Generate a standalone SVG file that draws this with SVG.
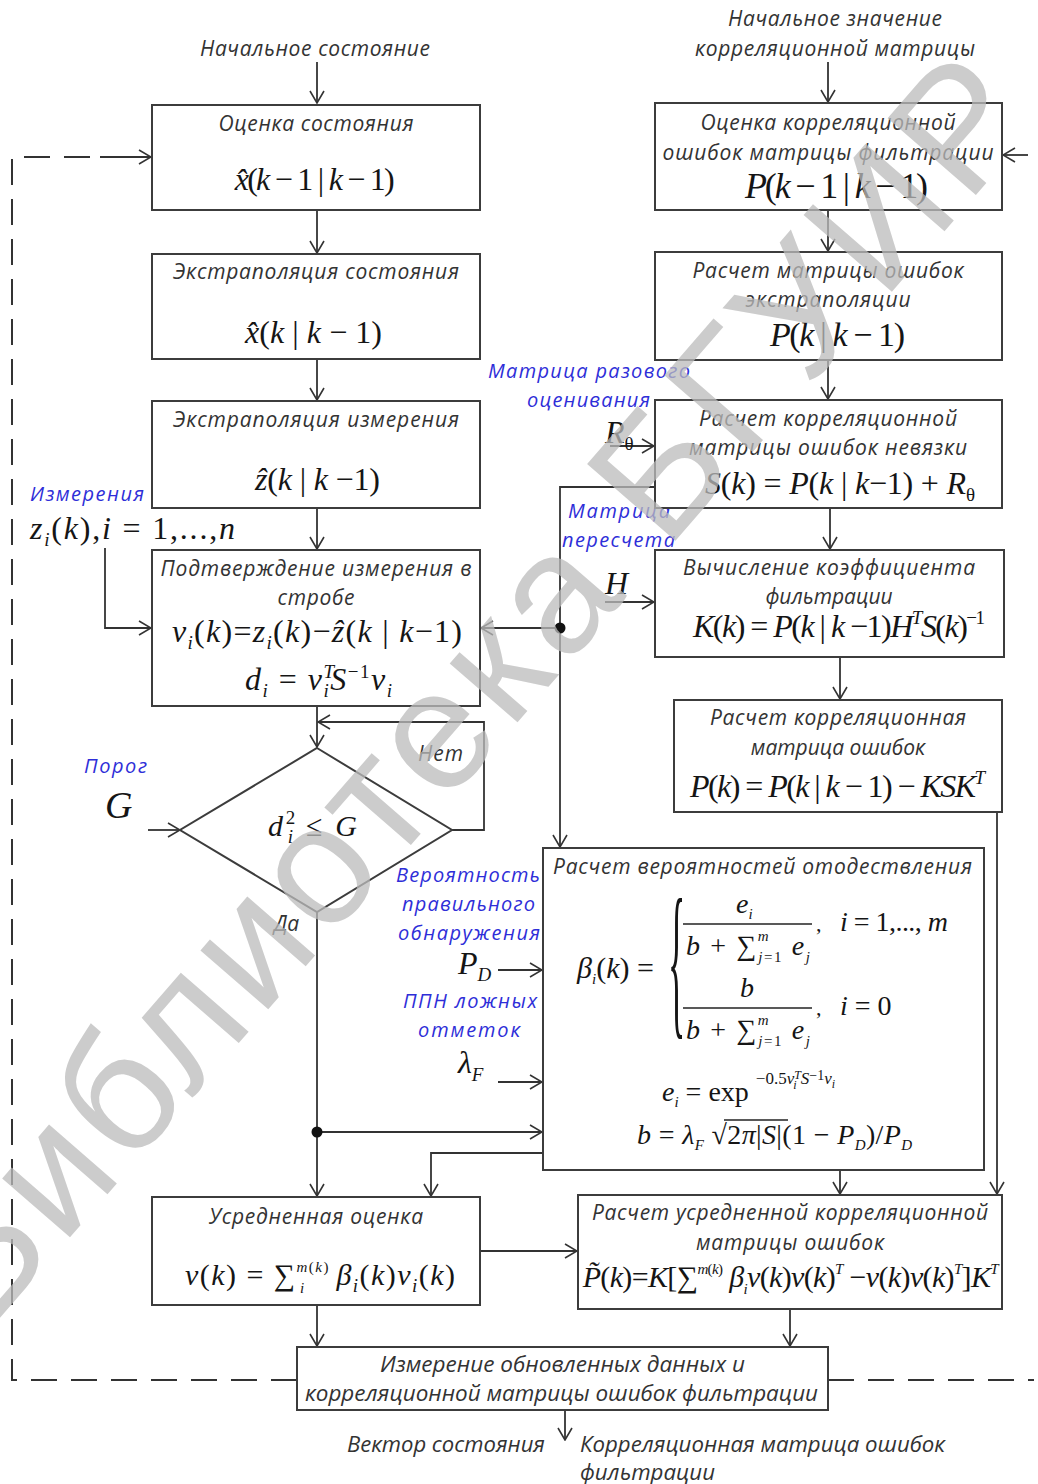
<svg xmlns="http://www.w3.org/2000/svg" width="1038" height="1484" viewBox="0 0 1038 1484">
<style>
.box{fill:#fff;stroke:#3c3c3c;stroke-width:2}
.t{font-family:"Open Sans","Noto Sans",sans-serif;font-style:italic;font-size:21px;fill:#333;text-anchor:middle}
.n{font-family:"Open Sans","Noto Sans",sans-serif;font-style:italic;font-size:21px;fill:#333}
.b{font-family:"Open Sans","Noto Sans",sans-serif;font-style:italic;font-size:20px;fill:#2e2ed8}
.m{font-family:"Liberation Serif","DejaVu Serif",serif;font-size:32px;fill:#151515}
.i{font-style:italic}
.s{font-size:19px}
.ss{font-size:15px}
.c path,.c line{stroke:#333;stroke-width:1.8;fill:none}
.c .d{stroke-dasharray:26,14;stroke-width:2}
.wm{font-family:"Liberation Sans",Arial,sans-serif;font-size:170px;fill:#bcbcbc;opacity:0.75}
</style>
<defs>
<marker id="a" viewBox="0 0 14 16" refX="13" refY="8" markerWidth="14" markerHeight="16" markerUnits="userSpaceOnUse" orient="auto">
<path d="M1,1 L13,8 L1,15" fill="none" stroke="#333" stroke-width="1.6"/>
</marker>
</defs>

<!-- connectors -->
<g id="connectors" class="c">
<line x1="317" y1="62" x2="317" y2="103" marker-end="url(#a)"/>
<line x1="828" y1="62" x2="828" y2="102" marker-end="url(#a)"/>
<line x1="317" y1="210" x2="317" y2="253" marker-end="url(#a)"/>
<line x1="317" y1="359" x2="317" y2="400" marker-end="url(#a)"/>
<line x1="317" y1="508" x2="317" y2="549" marker-end="url(#a)"/>
<line x1="317" y1="706" x2="317" y2="747" marker-end="url(#a)"/>
<path d="M452,830 H484 V722 H318" marker-end="url(#a)"/>
<line x1="148" y1="830" x2="180" y2="830" marker-end="url(#a)"/>
<line x1="317" y1="912" x2="317" y2="1196" marker-end="url(#a)"/>
<path d="M317,1132 H542" marker-end="url(#a)"/>
<path d="M105,548 V628 H151" marker-end="url(#a)"/>
<path class="d" d="M297,1380 H12 V157 H100"/>
<line x1="100" y1="157" x2="151" y2="157" marker-end="url(#a)"/>
<path class="d" d="M828,1380 H1034"/>
<line x1="1028" y1="155" x2="1003" y2="155" marker-end="url(#a)"/>
<line x1="828" y1="210" x2="828" y2="251" marker-end="url(#a)"/>
<line x1="828" y1="360" x2="828" y2="399" marker-end="url(#a)"/>
<line x1="830" y1="508" x2="830" y2="549" marker-end="url(#a)"/>
<line x1="840" y1="657" x2="840" y2="699" marker-end="url(#a)"/>
<line x1="610" y1="446" x2="654" y2="446" marker-end="url(#a)"/>
<line x1="605" y1="602" x2="654" y2="602" marker-end="url(#a)"/>
<path d="M655,487 H560 V847" marker-end="url(#a)"/>
<path d="M560,628 H481" marker-end="url(#a)"/>
<line x1="997" y1="812" x2="997" y2="1194" marker-end="url(#a)"/>
<line x1="840" y1="1170" x2="840" y2="1194" marker-end="url(#a)"/>
<path d="M543,1153 H431 V1196" marker-end="url(#a)"/>
<line x1="480" y1="1251" x2="577" y2="1251" marker-end="url(#a)"/>
<line x1="317" y1="1305" x2="317" y2="1346" marker-end="url(#a)"/>
<line x1="790" y1="1309" x2="790" y2="1346" marker-end="url(#a)"/>
<line x1="565" y1="1410" x2="565" y2="1440" marker-end="url(#a)"/>
<line x1="498" y1="970" x2="542" y2="970" marker-end="url(#a)"/>
<line x1="498" y1="1082" x2="542" y2="1082" marker-end="url(#a)"/>
<circle cx="317" cy="1132" r="5.5" fill="#111"/>
<circle cx="560" cy="628" r="5.5" fill="#111"/>
</g>

<!-- free labels -->
<g id="labels">
<text class="t" x="315" y="56" textLength="230">Начальное состояние</text>
<text class="t" x="835" y="26" textLength="214">Начальное значение</text>
<text class="t" x="835" y="56" textLength="280">корреляционной матрицы</text>
<text class="b" x="30" y="501" textLength="114">Измерения</text>
<text class="m" x="30" y="539" style="font-size:32px" textLength="205"><tspan class="i">z</tspan><tspan class="i s" dy="7">i</tspan><tspan dy="-7">(</tspan><tspan class="i">k</tspan>),<tspan class="i">i</tspan> = 1,...,<tspan class="i">n</tspan></text>
<text class="b" x="84" y="773" textLength="63">Порог</text>
<text class="m i" x="105" y="818" style="font-size:38px">G</text>
<text class="n" x="418" y="761" textLength="45">Нет</text>
<text class="n" x="274" y="931">Да</text>
<text class="b" x="488" y="378" textLength="202">Матрица разового</text>
<text class="b" x="527" y="407" textLength="123">оценивания</text>
<text class="m" x="605" y="443"><tspan class="i">R</tspan><tspan class="s" dy="7">θ</tspan></text>
<text class="b" x="568" y="518" textLength="102">Матрица</text>
<text class="b" x="562" y="547" textLength="113">пересчета</text>
<text class="m i" x="605" y="594">H</text>
<text class="b" x="396" y="882" textLength="144">Вероятность</text>
<text class="b" x="402" y="911" textLength="133">правильного</text>
<text class="b" x="398" y="940" textLength="142">обнаружения</text>
<text class="m" x="458" y="974"><tspan class="i">P</tspan><tspan class="i s" dy="7">D</tspan></text>
<text class="b" x="403" y="1008" textLength="134">ППН ложных</text>
<text class="b" x="418" y="1037" textLength="102">отметок</text>
<text class="m" x="458" y="1073"><tspan class="i">λ</tspan><tspan class="i s" dy="8">F</tspan></text>
<text class="n" x="347" y="1452" textLength="198" lengthAdjust="spacingAndGlyphs">Вектор состояния</text>
<text class="n" x="580" y="1452" textLength="365" lengthAdjust="spacingAndGlyphs">Корреляционная матрица ошибок</text>
<text class="n" x="580" y="1480" textLength="135" lengthAdjust="spacingAndGlyphs">фильтрации</text>
</g>

<!-- left column -->
<g id="n1">
<rect class="box" x="152" y="105" width="328" height="105"/>
<text class="t" x="316" y="131" textLength="195">Оценка состояния</text>
<text class="m" x="233" y="190" textLength="160"><tspan class="i">x̂</tspan>(<tspan class="i">k</tspan> − 1 | <tspan class="i">k</tspan> − 1)</text>
</g>
<g id="n2">
<rect class="box" x="152" y="254" width="328" height="105"/>
<text class="t" x="316" y="279" textLength="286">Экстраполяция состояния</text>
<text class="m" x="245" y="343" textLength="137"><tspan class="i">x̂</tspan>(<tspan class="i">k</tspan> | <tspan class="i">k</tspan> − 1)</text>
</g>
<g id="n3">
<rect class="box" x="152" y="401" width="328" height="107"/>
<text class="t" x="316" y="427" textLength="286">Экстраполяция измерения</text>
<text class="m" x="255" y="490" textLength="125"><tspan class="i">ẑ</tspan>(<tspan class="i">k</tspan> | <tspan class="i">k</tspan> −1)</text>
</g>
<g id="n4">
<rect class="box" x="152" y="550" width="328" height="156"/>
<text class="t" x="316" y="576" textLength="311">Подтверждение измерения в</text>
<text class="t" x="316" y="605" textLength="77">стробе</text>
<text class="m" x="172" y="642" textLength="290"><tspan class="i">ν</tspan><tspan class="i s" dy="7">i</tspan><tspan dy="-7">(</tspan><tspan class="i">k</tspan>)=<tspan class="i">z</tspan><tspan class="i s" dy="7">i</tspan><tspan dy="-7">(</tspan><tspan class="i">k</tspan>)−<tspan class="i">ẑ</tspan>(<tspan class="i">k</tspan> | <tspan class="i">k</tspan>−1)</text>
<text class="m" x="245" y="690" textLength="147"><tspan class="i">d</tspan><tspan class="i s" dy="7">i</tspan><tspan dy="-7"> = </tspan><tspan class="i">ν</tspan><tspan class="i s" dy="-12">T</tspan><tspan class="i s" dx="-11" dy="19">i</tspan><tspan class="i" dy="-7">S</tspan><tspan class="s" dy="-12">−1</tspan><tspan class="i" dy="12">ν</tspan><tspan class="i s" dy="7">i</tspan></text>
</g>
<g id="n5">
<polygon class="box" points="317,748 452,830 317,912 180,830"/>
<text class="m" x="268" y="836" textLength="89" style="font-size:30px"><tspan class="i">d</tspan><tspan class="s" dy="-12">2</tspan><tspan class="i s" dx="-10" dy="19">i</tspan><tspan dy="-7"> ≤ </tspan><tspan class="i">G</tspan></text>
</g>
<g id="n6">
<rect class="box" x="152" y="1197" width="328" height="108"/>
<text class="t" x="316" y="1224" textLength="214">Усредненная оценка</text>
<text class="m" x="185" y="1285" textLength="270" style="font-size:30px"><tspan class="i">ν</tspan>(<tspan class="i">k</tspan>) = ∑<tspan class="i ss" dy="-13">m</tspan><tspan class="ss">(</tspan><tspan class="i ss">k</tspan><tspan class="ss">)</tspan><tspan class="i ss" dx="-30" dy="21">i</tspan><tspan dx="22" dy="-8"> </tspan><tspan class="i">β</tspan><tspan class="i s" dy="7">i</tspan><tspan dy="-7">(</tspan><tspan class="i">k</tspan>)<tspan class="i">ν</tspan><tspan class="i s" dy="7">i</tspan><tspan dy="-7">(</tspan><tspan class="i">k</tspan>)</text>
</g>

<!-- right column -->
<g id="r1">
<rect class="box" x="655" y="103" width="347" height="107"/>
<text class="t" x="828" y="130" textLength="255">Оценка корреляционной</text>
<text class="t" x="828" y="160" textLength="331">ошибок матрицы фильтрации</text>
<text class="m" x="745" y="198" textLength="183" style="font-size:36px"><tspan class="i">P</tspan>(<tspan class="i">k</tspan> − 1 | <tspan class="i">k</tspan> − 1)</text>
</g>
<g id="r2">
<rect class="box" x="655" y="252" width="347" height="108"/>
<text class="t" x="828" y="278" textLength="271">Расчет матрицы ошибок</text>
<text class="t" x="828" y="307" textLength="165">экстраполяции</text>
<text class="m" x="770" y="346" textLength="135" style="font-size:34px"><tspan class="i">P</tspan>(<tspan class="i">k</tspan> | <tspan class="i">k</tspan> − 1)</text>
</g>
<g id="r3">
<rect class="box" x="655" y="400" width="347" height="108"/>
<text class="t" x="828" y="426" textLength="258">Расчет корреляционной</text>
<text class="t" x="828" y="455" textLength="278">матрицы ошибок невязки</text>
<text class="m" x="705" y="494" textLength="270"><tspan class="i">S</tspan>(<tspan class="i">k</tspan>) = <tspan class="i">P</tspan>(<tspan class="i">k</tspan> | <tspan class="i">k</tspan>−1) + <tspan class="i">R</tspan><tspan class="s" dy="7">θ</tspan></text>
</g>
<g id="r4">
<rect class="box" x="655" y="550" width="349" height="107"/>
<text class="t" x="829" y="575" textLength="292">Вычисление коэффициента</text>
<text class="t" x="829" y="604">фильтрации</text>
<text class="m" x="693" y="637" textLength="292"><tspan class="i">K</tspan>(<tspan class="i">k</tspan>) = <tspan class="i">P</tspan>(<tspan class="i">k</tspan> | <tspan class="i">k</tspan> −1)<tspan class="i">H</tspan><tspan class="i s" dy="-13">T</tspan><tspan class="i" dy="13">S</tspan>(<tspan class="i">k</tspan>)<tspan class="s" dy="-13">−1</tspan></text>
</g>
<g id="r5">
<rect class="box" x="674" y="700" width="328" height="112"/>
<text class="t" x="838" y="725" textLength="256">Расчет корреляционная</text>
<text class="t" x="838" y="755">матрица ошибок</text>
<text class="m" x="690" y="797" textLength="295"><tspan class="i">P</tspan>(<tspan class="i">k</tspan>) = <tspan class="i">P</tspan>(<tspan class="i">k</tspan> | <tspan class="i">k</tspan> − 1) − <tspan class="i">KSK</tspan><tspan class="i s" dy="-13">T</tspan></text>
</g>
<g id="r6">
<rect class="box" x="543" y="848" width="441" height="322"/>
<text class="n" x="553" y="874" textLength="419">Расчет вероятностей отодествления</text>
<text class="m" x="577" y="978" style="font-size:30px"><tspan class="i">β</tspan><tspan class="i ss" dy="6">i</tspan><tspan dy="-6">(</tspan><tspan class="i">k</tspan>) =</text>
<text class="m" x="0" y="0" style="font-size:100px" transform="translate(668,1016) scale(0.36,1.7)">{</text>
<text class="m i" x="736" y="913" style="font-size:28px">e<tspan class="ss" dy="6">i</tspan></text>
<line x1="683" y1="924" x2="812" y2="924" stroke="#222" stroke-width="1.4"/>
<text class="m" x="686" y="955" style="font-size:28px" textLength="124"><tspan class="i">b</tspan> + ∑<tspan class="i ss" dy="-14">m</tspan><tspan class="i ss" dx="-12" dy="21">j</tspan><tspan class="ss">=1</tspan><tspan class="i" dy="-7"> e</tspan><tspan class="i ss" dy="7">j</tspan></text>
<text class="m" x="816" y="931" style="font-size:22px">,</text>
<text class="m" x="840" y="931" style="font-size:28px" textLength="108"><tspan class="i">i</tspan> = 1,..., <tspan class="i">m</tspan></text>
<text class="m i" x="740" y="997" style="font-size:28px">b</text>
<line x1="683" y1="1008" x2="812" y2="1008" stroke="#222" stroke-width="1.4"/>
<text class="m" x="686" y="1039" style="font-size:28px" textLength="124"><tspan class="i">b</tspan> + ∑<tspan class="i ss" dy="-14">m</tspan><tspan class="i ss" dx="-12" dy="21">j</tspan><tspan class="ss">=1</tspan><tspan class="i" dy="-7"> e</tspan><tspan class="i ss" dy="7">j</tspan></text>
<text class="m" x="816" y="1015" style="font-size:22px">,</text>
<text class="m" x="840" y="1015" style="font-size:28px"><tspan class="i">i</tspan> = 0</text>
<text class="m" x="662" y="1101" style="font-size:28px"><tspan class="i">e</tspan><tspan class="i ss" dy="6">i</tspan><tspan dy="-6"> = exp </tspan><tspan class="ss" dy="-17" style="font-size:17px">−0.5</tspan><tspan class="i" style="font-size:17px">ν</tspan><tspan class="i" font-size="12" dy="-5">T</tspan><tspan class="i" font-size="12" dx="-7" dy="10">i</tspan><tspan class="i" style="font-size:17px" dy="-5"> S</tspan><tspan style="font-size:14px" dy="-4">−1</tspan><tspan class="i" style="font-size:17px" dy="4">ν</tspan><tspan class="i" font-size="12" dy="4">i</tspan></text>
<text class="m" x="637" y="1144" style="font-size:28px" textLength="275"><tspan class="i">b</tspan> = <tspan class="i">λ</tspan><tspan class="i ss" dy="6">F</tspan><tspan dy="-6"> √</tspan>2<tspan class="i">π</tspan>|<tspan class="i">S</tspan>|(1 − <tspan class="i">P</tspan><tspan class="i ss" dy="6">D</tspan><tspan dy="-6">)/</tspan><tspan class="i">P</tspan><tspan class="i ss" dy="6">D</tspan></text>
<line x1="724" y1="1120" x2="788" y2="1120" stroke="#222" stroke-width="1.3"/>
</g>
<g id="r7">
<rect class="box" x="578" y="1195" width="424" height="114"/>
<text class="t" x="790" y="1220" textLength="396">Расчет усредненной корреляционной</text>
<text class="t" x="790" y="1250" textLength="188">матрицы ошибок</text>
<text class="m" x="582" y="1287" textLength="416" style="font-size:30px"><tspan class="i">P̃</tspan>(<tspan class="i">k</tspan>)=<tspan class="i">K</tspan>[∑<tspan class="i ss" dy="-13">m</tspan><tspan class="ss">(</tspan><tspan class="i ss">k</tspan><tspan class="ss">)</tspan><tspan class="i" dy="13"> β</tspan><tspan class="i ss" dy="7">i</tspan><tspan class="i" dy="-7">ν</tspan>(<tspan class="i">k</tspan>)<tspan class="i">ν</tspan>(<tspan class="i">k</tspan>)<tspan class="i ss" dy="-13">T</tspan><tspan dy="13"> −</tspan><tspan class="i">ν</tspan>(<tspan class="i">k</tspan>)<tspan class="i">ν</tspan>(<tspan class="i">k</tspan>)<tspan class="i ss" dy="-13">T</tspan><tspan dy="13">]</tspan><tspan class="i">K</tspan><tspan class="i ss" dy="-13">T</tspan></text>
</g>
<g id="n7">
<rect class="box" x="297" y="1347" width="531" height="63"/>
<text class="n" x="380" y="1372" textLength="365" lengthAdjust="spacingAndGlyphs">Измерение обновленных данных и</text>
<text class="n" x="305" y="1401" textLength="513" lengthAdjust="spacingAndGlyphs">корреляционной матрицы ошибок фильтрации</text>
</g>

<!-- watermark -->
<text class="wm" x="0" y="0" transform="translate(-15,1335) rotate(-49)" textLength="1610">Библиотека БГУИР</text>
</svg>
